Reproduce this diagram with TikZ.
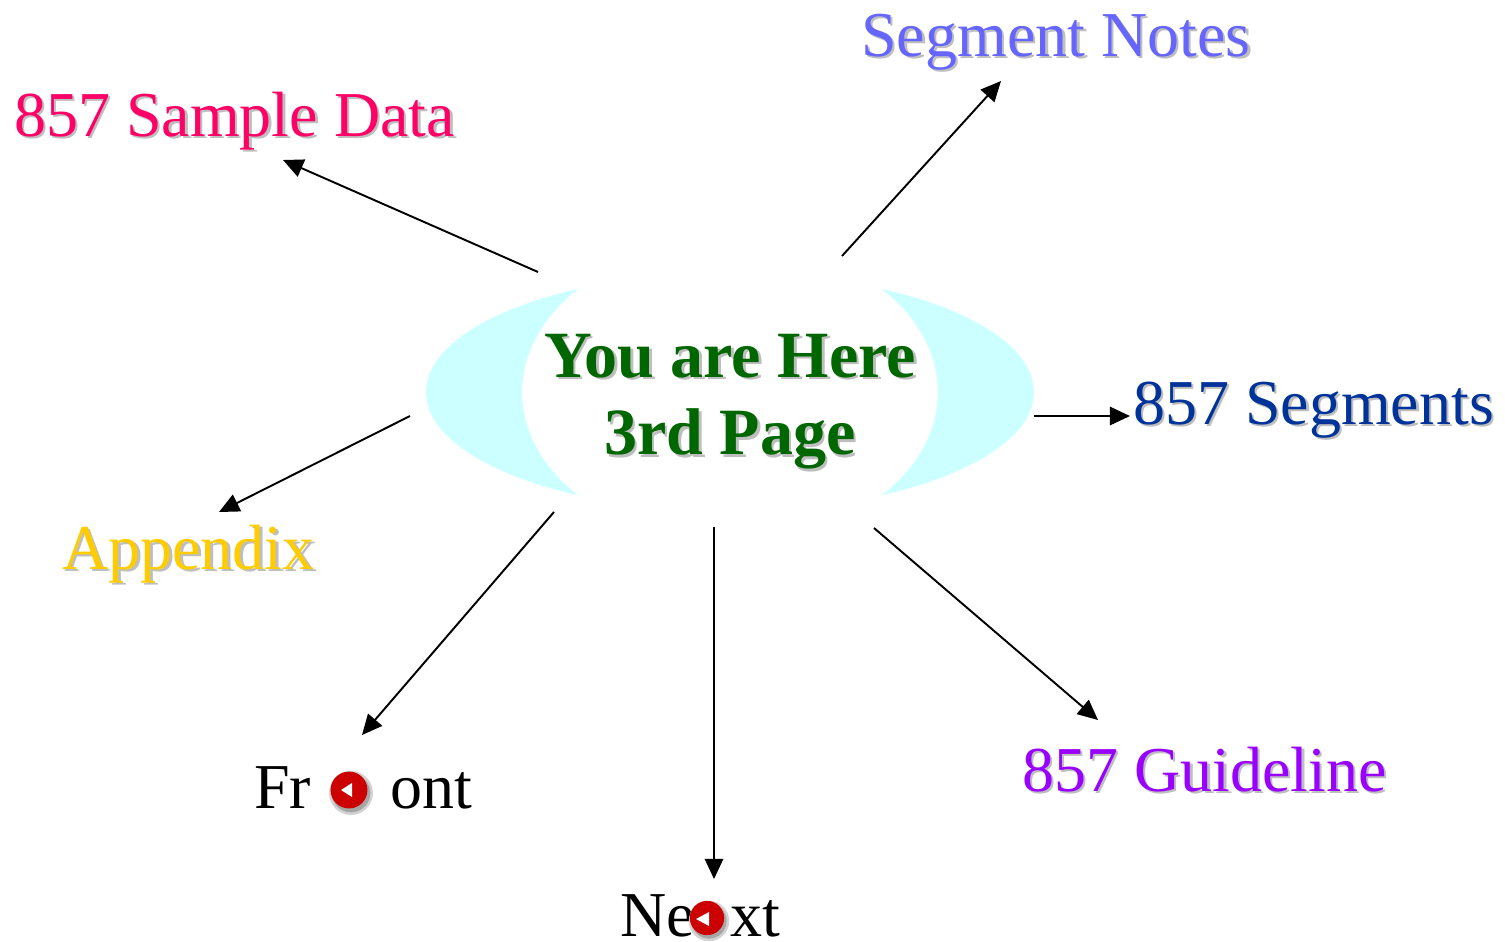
\documentclass[tikz,border=0pt]{standalone}
\usepackage{fontspec}
\setmainfont{Liberation Serif}
\usetikzlibrary{arrows.meta}
\definecolor{shadowgray}{RGB}{190,190,190}
\definecolor{crescent}{RGB}{204,255,255}
\definecolor{herecolor}{RGB}{0,102,0}
\definecolor{samplecolor}{RGB}{255,0,102}
\definecolor{notescolor}{RGB}{102,102,255}
\definecolor{segmentcolor}{RGB}{0,51,153}
\definecolor{appendixcolor}{RGB}{255,204,0}
\definecolor{guidecolor}{RGB}{153,0,255}
\definecolor{iconred}{RGB}{204,0,0}
\newcommand{\shadowed}[2]{\leavevmode\rlap{\kern1.5pt\raisebox{-1.5pt}{\textcolor{shadowgray}{#2}}}\textcolor{#1}{#2}}
\tikzset{
    link/.style={line width=1.1pt,-{Triangle[length=11.5pt,width=10.5pt]}},
    label/.style={anchor=base west,inner sep=0pt,font=\fontsize{36.4}{43}\selectfont},
    iconblur/.style={circle,fill=gray!35,inner sep=0pt},
    iconshadow/.style={circle,fill=gray!70,inner sep=0pt},
    icon/.style={circle,fill=iconred,inner sep=0pt},
}
\begin{document}
\begin{tikzpicture}[x=0.02cm,y=-0.02cm]
    \useasboundingbox (0,0) rectangle (1505,941);
    \fill[crescent] (578,289) arc[start angle=240,end angle=120,x radius=304,y radius=119]
        arc[start angle=137,end angle=223,x radius=208,y radius=151] -- cycle;
    \fill[crescent] (882,289) arc[start angle=-60,end angle=60,x radius=304,y radius=119]
        arc[start angle=43,end angle=-43,x radius=208,y radius=151] -- cycle;
    \node[inner sep=0pt,align=center,font=\fontsize{37.6}{44.3}\selectfont\bfseries] (here) at (730,403)
        {\shadowed{herecolor}{You are Here}\\\shadowed{herecolor}{3rd Page}};
    \node[label] (sample) at (14,136) {\shadowed{samplecolor}{857 Sample Data}};
    \node[label] (notes) at (861,56) {\shadowed{notescolor}{Segment Notes}};
    \node[label] (segments) at (1133,424) {\shadowed{segmentcolor}{857 Segments}};
    \node[label] (appendix) at (62,569) {\shadowed{appendixcolor}{Appendix}};
    \node[label] (front) at (254,808) {Fr\hspace{45pt}ont};
    \node[label] (next) at (620,936) {Ne\hspace{20pt}xt};
    \node[label] (guide) at (1022,791) {\shadowed{guidecolor}{857 Guideline}};
    \coordinate (sampletail) at (538,272);
    \coordinate (samplehead) at (283,160);
    \coordinate (notestail) at (842,256);
    \coordinate (noteshead) at (1001,81);
    \coordinate (segmentstail) at (1034,416);
    \coordinate (segmentshead) at (1130,416);
    \coordinate (appendixtail) at (410,416);
    \coordinate (appendixhead) at (219,512);
    \coordinate (fronttail) at (554,512);
    \coordinate (fronthead) at (362,735);
    \coordinate (nexttail) at (714,527);
    \coordinate (nexthead) at (714,879);
    \coordinate (guidetail) at (874,528);
    \coordinate (guidehead) at (1098,720);
    \draw[link] (sampletail) -- (samplehead);
    \draw[link] (notestail) -- (noteshead);
    \draw[link] (segmentstail) -- (segmentshead);
    \draw[link] (appendixtail) -- (appendixhead);
    \draw[link] (fronttail) -- (fronthead);
    \draw[link] (nexttail) -- (nexthead);
    \draw[link] (guidetail) -- (guidehead);
    \node[iconblur,minimum size=25pt] (frontblur) at (351,793) {};
    \node[iconshadow,minimum size=22pt] (frontshadow) at (351,793) {};
    \node[icon,minimum size=21pt] (fronticon) at (349,790) {};
    \fill[white] (341,790) -- (352,783) -- (352,797) -- cycle;
    \node[iconblur,minimum size=23pt] (nextblur) at (709,921) {};
    \node[iconshadow,minimum size=20pt] (nextshadow) at (709,921) {};
    \node[icon,minimum size=19.5pt] (nexticon) at (707,918) {};
    \fill[white] (696,919) -- (709,912) -- (709,926) -- cycle;
\end{tikzpicture}
\end{document}
